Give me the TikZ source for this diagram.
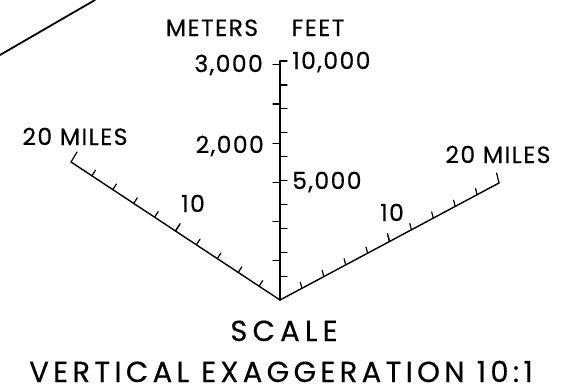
\documentclass[tikz,border=0pt]{standalone}
\usepackage{fontspec}
\newfontfamily\lettering[LetterSpace=6,FakeBold=0.4]{Poppins}
\newfontfamily\titling[LetterSpace=15,FakeBold=0.4]{Poppins}
\usetikzlibrary{calc}

\begin{document}
\begin{tikzpicture}[x=1pt, y=-1pt, line cap=round,
    axis/.style={line width=1.4pt},
    tick/.style={line width=1.2pt},
    lbl/.style={inner sep=0pt, font=\lettering\fontsize{23.5}{24}\selectfont},
    title/.style={inner sep=0pt, font=\titling\fontsize{29}{30}\selectfont}]
  \useasboundingbox (0,0) rectangle (564,391);
  % fragment of the section above
  \coordinate (s1) at (0,55);
  \coordinate (s2) at (95,0);
  \draw[line width=1.8pt] (s1) -- (s2);

  % axes
  \coordinate (O) at (280,300);
  \coordinate (T) at (280,61);
  \coordinate (L) at (71,162);
  \coordinate (R) at (499,183);
  \draw[axis] (O) -- (T);
  \draw[axis] (O) -- (L);
  \draw[axis] (O) -- (R);

  % feet ticks, right of the axis
  \foreach \f in {1,...,10}
    \draw[tick] ($(O)!\f/10!(T)$) -- ++(7,0);
  % meter ticks, left of the axis
  \foreach \m in {1,...,6}
    \draw[tick] ($(O)!\m*0.1640!(T)$) -- ++(-7,0);

  % mile ticks
  \foreach \i in {1,...,9}
    \draw[tick] ($(O)!\i/10!(L)$) -- ++(3.6,-5.6);
  \draw[tick] ($(O)!0.5!(L)$) -- ++(4.6,-7.4);
  \draw[tick] (L) -- ++(6,-10);
  \foreach \i in {1,...,9}
    \draw[tick] ($(O)!\i/10!(R)$) -- ++(-1.6,-6.2);
  \draw[tick] ($(O)!0.5!(R)$) -- ++(-2,-8);
  \draw[tick] (R) -- ++(-2.4,-10);

  % labels
  \node[lbl, anchor=base] (meters) at (212,36) {METERS};
  \node[lbl, anchor=base] (feet) at (318,36) {FEET};
  \node[lbl, anchor=base east] (m3000) at (263,72) {3,000};
  \node[lbl, anchor=base west] (f10000) at (292,69) {10,000};
  \node[lbl, anchor=base east] (m2000) at (264,153) {2,000};
  \node[lbl, anchor=base west] (f5000) at (292,189) {5,000};
  \node[lbl, anchor=base] (milesL) at (75,145) {20 MILES};
  \node[lbl, anchor=base] (milesR) at (498,163) {20 MILES};
  \node[lbl, anchor=base] (tenL) at (193,212) {10};
  \node[lbl, anchor=base] (tenR) at (392,221) {10};
  \node[title, anchor=base, font=\titling\addfontfeatures{LetterSpace=18}\fontsize{29}{30}\selectfont] (scale) at (284,341) {SCALE};
  \node[title, anchor=base] (exag) at (281,382) {VERTICAL EXAGGERATION 10:1};
\end{tikzpicture}
\end{document}
